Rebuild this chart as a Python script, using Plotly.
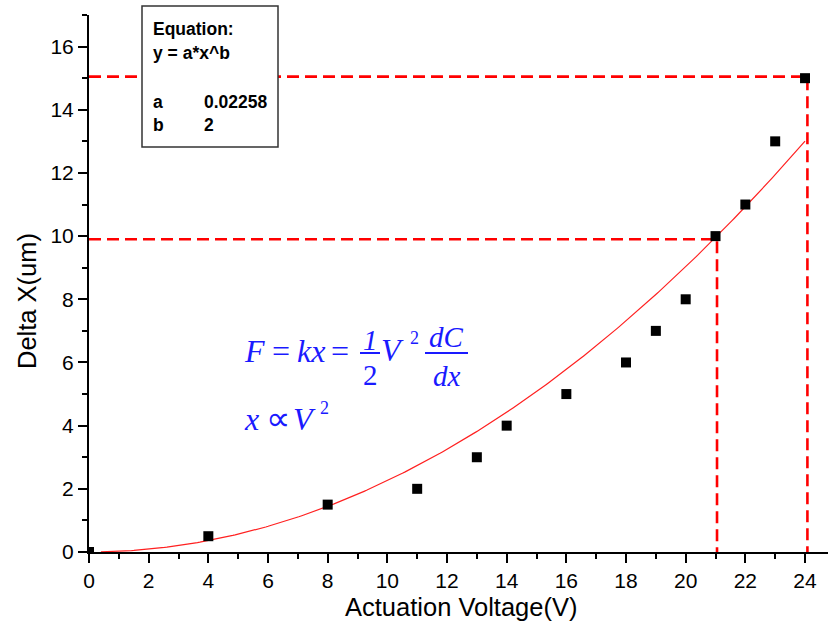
import numpy as np
import plotly.graph_objects as go

# ---- data ----
voltage = [0, 4, 8, 11, 13, 14, 16, 18, 19, 20, 21, 22, 23, 24]
delta_x = [0, 0.5, 1.5, 2, 3, 4, 5, 6, 7, 8, 10, 11, 13, 15]
fit_a = 0.02258
fit_b = 2
fit_x_start = 0.4
fit_x_end = 24
guide1 = (21.05, 9.9)   # (x, y) of first dashed guide
guide2 = (24.08, 15.05)  # (x, y) of second dashed guide
x_ticks = list(range(0, 25, 2))
y_ticks = list(range(0, 17, 2))

W, H = 828, 625
L, R, T, B = 89, 0, 15, 73
PW, PH = W - L - R, H - T - B

def px(x):
    return (x - L) / PW

def py(y):
    return (H - B - y) / PH

fit_x = np.linspace(fit_x_start, fit_x_end, 300)
fit_y = fit_a * fit_x ** fit_b

fig = go.Figure()
fig.add_trace(go.Scatter(x=fit_x, y=fit_y, mode="lines",
                         line=dict(color="#ff2020", width=1.2), showlegend=False))
for gx, gy in (guide1, guide2):
    fig.add_trace(go.Scatter(x=[0, gx, gx], y=[gy, gy, 0], mode="lines",
                             line=dict(color="#ff0000", width=2.6, dash="12px,6px"),
                             showlegend=False))
fig.add_trace(go.Scatter(x=voltage, y=delta_x, mode="markers",
                         marker=dict(symbol="square", size=10, color="black",
                                     line=dict(width=0)),
                         showlegend=False))

tickfont = dict(family="Liberation Sans, Arial", size=21, color="black")
fig.update_xaxes(range=[0, 24.77], tickvals=x_ticks, showline=True, linecolor="black",
                 linewidth=2, ticks="outside", ticklen=9, tickwidth=2, tickcolor="black",
                 minor=dict(ticks="outside", ticklen=5, tickwidth=2, tickcolor="black", dtick=1, tick0=0),
                 showgrid=False, zeroline=False, tickfont=tickfont)
fig.update_yaxes(range=[0, 17], tickvals=y_ticks, showline=True, linecolor="black",
                 linewidth=2, ticks="outside", ticklen=9, tickwidth=2, tickcolor="black",
                 minor=dict(ticks="outside", ticklen=5, tickwidth=2, tickcolor="black", dtick=1, tick0=0),
                 showgrid=False, zeroline=False, tickfont=tickfont)

ann = []
shapes = []
titlefont = dict(family="Liberation Sans, Arial", size=25.5, color="black")
ann.append(dict(text="Actuation Voltage(V)", x=px(461), y=py(607), xref="paper", yref="paper",
                showarrow=False, font=titlefont, xanchor="center", yanchor="middle"))
ann.append(dict(text="Delta X(um)", x=px(27), y=py(301), xref="paper", yref="paper",
                showarrow=False, font=titlefont, xanchor="center", yanchor="middle", textangle=-90))

# equation box
shapes.append(dict(type="rect", xref="paper", yref="paper", x0=px(142), x1=px(278),
                   y0=py(147), y1=py(6), line=dict(color="#333333", width=1.5),
                   fillcolor="white", layer="above"))
bf = dict(family="Liberation Sans, Arial", size=17.5, color="black")
for txt, xx, yy in [("<b>Equation:</b>", 151, 29), ("<b>y = a*x^b</b>", 151, 53),
                    ("<b>a</b>", 151, 102), ("<b>b</b>", 151, 125),
                    ("<b>0.02258</b>", 202, 102), ("<b>2</b>", 202, 125)]:
    ann.append(dict(text=txt, x=px(xx), y=py(yy), xref="paper", yref="paper", showarrow=False,
                    font=bf, xanchor="left", yanchor="middle"))

# physics formula
blue = "#1a1aff"
serif = "Liberation Serif, Times New Roman"
sf = dict(family=serif, size=32, color=blue)
sf2 = dict(family=serif, size=29, color=blue)
sfs = dict(family=serif, size=18, color=blue)
sfp = dict(family="DejaVu Sans", size=34, color=blue)
for txt, xx, yy, f, anc in [
    ("<i>F</i>", 242, 351, sf, "left"),
    ("=", 281, 351, sf, "center"),
    ("<i>kx</i>", 295, 351, sf, "left"),
    ("=", 340, 351, sf, "center"),
    ("<i>1</i>", 370, 340, sf2, "center"),
    ("2", 370, 375, sf2, "center"),
    ("<i>V</i>", 379, 350, sf, "left"),
    ("2", 408, 338, sfs, "left"),
    ("<i>dC</i>", 446, 337, sf2, "center"),
    ("<i>dx</i>", 447, 376, sf2, "center"),
    ("<i>x</i>", 242, 419, sf, "left"),
    ("\u221d", 278, 418, sfp, "center"),
    ("<i>V</i>", 291, 419, sf, "left"),
    ("2", 318, 408, sfs, "left"),
]:
    ann.append(dict(text=txt, x=px(xx), y=py(yy), xref="paper", yref="paper", showarrow=False,
                    font=f, xanchor=anc, yanchor="middle"))
for x0, x1 in [(360, 380), (425, 468)]:
    shapes.append(dict(type="line", xref="paper", yref="paper", x0=px(x0), x1=px(x1),
                       y0=py(353), y1=py(353), line=dict(color=blue, width=2)))

fig.update_layout(width=W, height=H, margin=dict(l=L, r=R, t=T, b=B),
                  plot_bgcolor="white", paper_bgcolor="white",
                  annotations=ann, shapes=shapes, showlegend=False)
fig.write_html("out.html", config={"displayModeBar": False},
               post_script="document.body.style.margin='0px';")
